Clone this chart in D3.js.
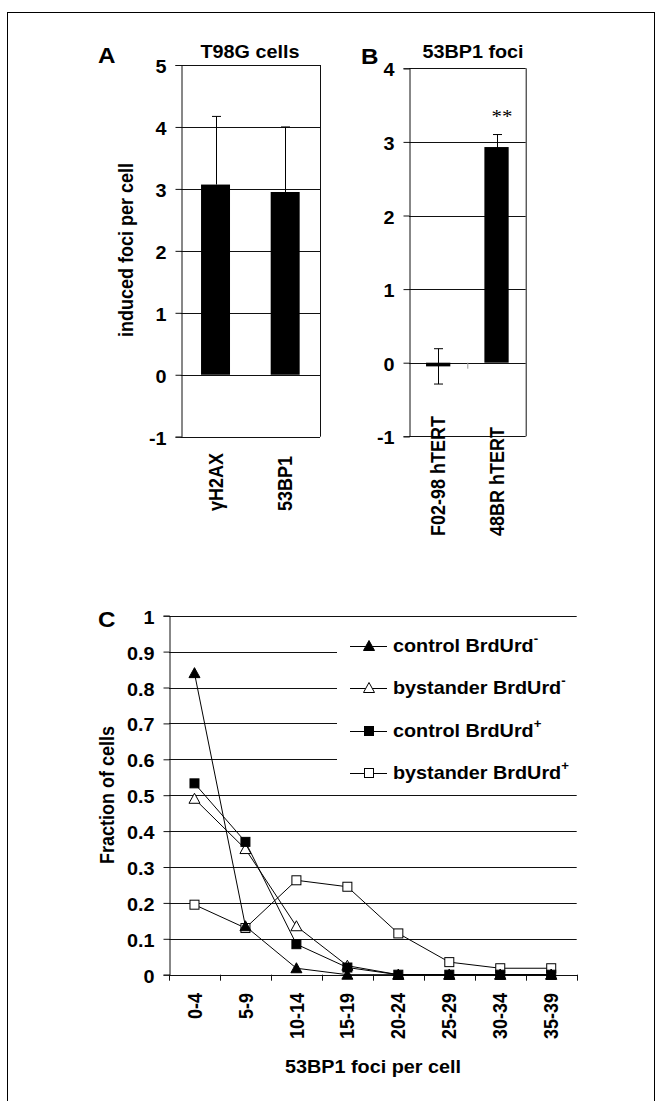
<!DOCTYPE html>
<html><head><meta charset="utf-8">
<script src="https://cdn.jsdelivr.net/npm/d3@7"></script>
<style>
body{margin:0;background:#fff}
svg{display:block}
text{font-family:"Liberation Sans",Arial,Helvetica,sans-serif;font-weight:bold;fill:#000}
</style></head>
<body><svg id="chart" width="661" height="1101"></svg>
<script>
// ---------- data ----------
const catsA = ["γH2AX", "53BP1"];
const valsA = [3.07, 2.95];
const errA = [1.10, 1.05];
const ticksA = [-1, 0, 1, 2, 3, 4, 5];

const catsB = ["F02-98 hTERT", "48BR hTERT"];
const valsB = [-0.05, 2.93];
const errB = [0.24, 0.17];
const ticksB = [-1, 0, 1, 2, 3, 4];

const catsC = ["0-4", "5-9", "10-14", "15-19", "20-24", "25-29", "30-34", "35-39"];
const controlMinus = [0.84, 0.135, 0.018, 0, 0, 0, 0, 0];
const bystanderMinus = [0.49, 0.35, 0.135, 0.025, 0, 0, 0, 0];
const controlPlus = [0.533, 0.37, 0.085, 0.02, 0, 0, 0, 0];
const bystanderPlus = [0.195, 0.13, 0.263, 0.245, 0.115, 0.035, 0.018, 0.018];
const ticksC = [0, 0.1, 0.2, 0.3, 0.4, 0.5, 0.6, 0.7, 0.8, 0.9, 1];
const tickLabelsC = ["0", "0.1", "0.2", "0.3", "0.4", "0.5", "0.6", "0.7", "0.8", "0.9", "1"];

// ---------- helpers ----------
const SX = 1.1;
const svg = d3.select("#chart");
svg.append("rect").attr("x", 7.5).attr("y", 12.5).attr("width", 647).attr("height", 1100)
  .attr("fill", "none").attr("stroke", "#000").attr("stroke-width", 1);

function txt(g, x, y, s, o = {}) {
  const t = g.append("text")
    .attr("transform", `translate(${x},${y}) scale(${SX},1)` + (o.rot ? ` rotate(${o.rot})` : ""))
    .attr("text-anchor", o.anchor || "start")
    .attr("font-size", o.size || 18);
  if (o.dy) t.attr("dy", o.dy);
  if (o.family) t.style("font-family", o.family);
  if (o.weight) t.style("font-weight", o.weight);
  t.text(s);
  return t;
}

function barPanel(cfg) {
  const g = svg.append("g");
  const x = d3.scaleBand().domain(cfg.cats).range([cfg.x0, cfg.x1]).paddingInner(0.584).paddingOuter(0.292);
  const y = d3.scaleLinear().domain([cfg.ticks[0], cfg.ticks[cfg.ticks.length - 1]]).range([cfg.y1, cfg.y0]);
  // gridlines
  g.selectAll("line.grid").data(cfg.ticks).join("line")
    .attr("x1", cfg.x0).attr("x2", cfg.x1)
    .attr("y1", d => Math.round(y(d)) + 0.5).attr("y2", d => Math.round(y(d)) + 0.5)
    .attr("stroke", "#111").attr("stroke-width", 1);
  // right border
  g.append("line").attr("x1", cfg.x1 + 0.5).attr("x2", cfg.x1 + 0.5).attr("y1", y.range()[1]).attr("y2", y.range()[0])
    .attr("stroke", "#111");
  // left axis
  const ax = g.append("g").attr("transform", `translate(${Math.round(cfg.x0) + 0.5},0)`)
    .call(d3.axisLeft(y).tickValues(cfg.ticks).tickSize(6).tickFormat(d => String(d)));
  ax.select(".domain").attr("stroke", "#111");
  ax.selectAll(".tick line").attr("stroke", "#111");
  ax.selectAll(".tick text").attr("x", null).attr("dy", "0.42em")
    .attr("transform", `translate(-15,0) scale(${SX},1)`)
    .attr("font-size", 18).attr("fill", "#000")
    .style("font-family", '"Liberation Sans",Arial,sans-serif').style("font-weight", "bold");
  // bars
  g.selectAll("rect.bar").data(cfg.vals).join("rect")
    .attr("x", (d, i) => x(cfg.cats[i])).attr("width", x.bandwidth())
    .attr("y", d => y(Math.max(0, d))).attr("height", d => Math.abs(y(d) - y(0)))
    .attr("fill", "#000");
  // error bars
  cfg.vals.forEach((v, i) => {
    const cx = Math.round(x(cfg.cats[i]) + x.bandwidth() / 2) + 0.5;
    const top = y(v + cfg.err[i]);
    const bot = cfg.lower ? y(v - cfg.err[i]) : y(v);
    g.append("line").attr("x1", cx).attr("x2", cx).attr("y1", top).attr("y2", bot).attr("stroke", "#000");
    g.append("line").attr("x1", cx - 4.5).attr("x2", cx + 4.5).attr("y1", top).attr("y2", top).attr("stroke", "#000");
    if (cfg.lower) g.append("line").attr("x1", cx - 4.5).attr("x2", cx + 4.5).attr("y1", bot).attr("y2", bot).attr("stroke", "#000");
  });
  // category labels
  cfg.cats.forEach(c => {
    txt(g, x(c) + x.bandwidth() / 2, cfg.labelY, c, { rot: -90, anchor: "start", dy: "0.36em" });
  });
  return { g, x, y };
}

// ---------- Panel A ----------
const A = barPanel({ cats: catsA, vals: valsA, err: errA, ticks: ticksA,
  x0: 180.7, x1: 320, y0: 65, y1: 436.7, labelY: 511, lower: false });
txt(A.g, 98, 63, "A", { size: 22 });
txt(A.g, 250, 58, "T98G cells", { anchor: "middle" });
txt(A.g, 126, 250, "induced foci per cell", { rot: -90, anchor: "middle", dy: "0.36em" });

// ---------- Panel B ----------
const B = barPanel({ cats: catsB, vals: valsB, err: errB, ticks: ticksB,
  x0: 409, x1: 525.7, y0: 68.3, y1: 436.3, labelY: 536, lower: true });
// category separator tick on zero line
B.g.append("line").attr("x1", 467.8).attr("x2", 467.8).attr("y1", B.y(0)).attr("y2", B.y(0) + 6).attr("stroke", "#999");
txt(B.g, 361, 64, "B", { size: 22 });
txt(B.g, 473, 58, "53BP1 foci", { anchor: "middle" });
txt(B.g, 502, 123, "**", { anchor: "middle", family: '"Liberation Serif","Times New Roman",serif', weight: "normal", size: 19 });

// ---------- Panel C ----------
const gC = svg.append("g");
const xC = d3.scaleBand().domain(catsC).range([169, 576.7]);
const yC = d3.scaleLinear().domain([0, 1]).range([974.7, 615.7]);
// gridlines
gC.selectAll("line.grid").data(ticksC.slice(1)).join("line")
  .attr("x1", 169).attr("x2", 576.7)
  .attr("y1", d => Math.round(yC(d)) + 0.5).attr("y2", d => Math.round(yC(d)) + 0.5)
  .attr("stroke", "#111");
// y axis
const axC = gC.append("g").attr("transform", "translate(169.5,0)")
  .call(d3.axisLeft(yC).tickValues(ticksC).tickSize(6).tickFormat((d, i) => tickLabelsC[i]));
axC.select(".domain").attr("stroke", "#111");
axC.selectAll(".tick line").attr("stroke", "#111");
axC.selectAll(".tick text").attr("x", null).attr("dy", "0.42em")
  .attr("transform", `translate(-15,0) scale(${SX},1)`)
  .attr("font-size", 18).attr("fill", "#000")
  .style("font-family", '"Liberation Sans",Arial,sans-serif').style("font-weight", "bold");
// x axis
gC.append("line").attr("x1", 169).attr("x2", 577).attr("y1", Math.round(yC(0)) + 0.5).attr("y2", Math.round(yC(0)) + 0.5).attr("stroke", "#111");
const bounds = catsC.map(c => xC(c)).concat([xC.range()[1]]);
gC.selectAll("line.xt").data(bounds).join("line")
  .attr("x1", d => Math.round(d) + 0.5).attr("x2", d => Math.round(d) + 0.5)
  .attr("y1", yC(0)).attr("y2", yC(0) + 6).attr("stroke", "#111");
catsC.forEach(c => {
  txt(gC, xC(c) + xC.bandwidth() / 2, 993, c, { rot: -90, anchor: "end", dy: "0.36em" });
});
txt(gC, 98, 627, "C", { size: 22 });
txt(gC, 107, 795, "Fraction of cells", { rot: -90, anchor: "middle", dy: "0.36em" });
txt(gC, 373, 1073, "53BP1 foci per cell", { anchor: "middle" });

// legend background
gC.append("rect").attr("x", 337).attr("y", 628).attr("width", 290).attr("height", 158).attr("fill", "#fff");

// markers
function marker(sel, type, cx, cy) {
  if (type === "triFill" || type === "triOpen") {
    sel.append("path").attr("d", `M${cx},${cy - 5.5}L${cx + 5.5},${cy + 4.5}L${cx - 5.5},${cy + 4.5}Z`)
      .attr("fill", type === "triFill" ? "#000" : "#fff").attr("stroke", "#000").attr("stroke-width", 1);
  } else {
    sel.append("rect").attr("x", cx - 4.5).attr("y", cy - 4.5).attr("width", 9).attr("height", 9)
      .attr("fill", type === "sqFill" ? "#000" : "#fff").attr("stroke", "#000").attr("stroke-width", 1);
  }
}
const series = [
  { name: "bystander BrdUrd", sup: "-", vals: bystanderPlus, type: "sqOpen", leg: 3, supText: "+" },
  { name: "bystander BrdUrd", sup: "-", vals: bystanderMinus, type: "triOpen", leg: 1, supText: "-" },
  { name: "control BrdUrd", sup: "-", vals: controlMinus, type: "triFill", leg: 0, supText: "-" },
  { name: "control BrdUrd", sup: "+", vals: controlPlus, type: "sqFill", leg: 2, supText: "+" }
];
const line = d3.line().x((d, i) => xC(catsC[i]) + xC.bandwidth() / 2).y(d => yC(d));
series.forEach(s => {
  gC.append("path").attr("d", line(s.vals)).attr("fill", "none").attr("stroke", "#000").attr("stroke-width", 1);
  s.vals.forEach((v, i) => marker(gC, s.type, xC(catsC[i]) + xC.bandwidth() / 2, yC(v)));
});
// legend entries
const legY = [646, 688, 731, 773];
series.forEach(s => {
  const ly = legY[s.leg];
  gC.append("line").attr("x1", 350).attr("x2", 387).attr("y1", ly + 0.5).attr("y2", ly + 0.5).attr("stroke", "#000");
  marker(gC, s.type, 369, ly);
  const t = txt(gC, 393, ly, "", { dy: "0.36em" });
  t.text(null);
  t.append("tspan").text(s.name);
  t.append("tspan").attr("font-size", 12).attr("dy", "-0.75em").text(s.supText);
});
</script>
</body></html>
